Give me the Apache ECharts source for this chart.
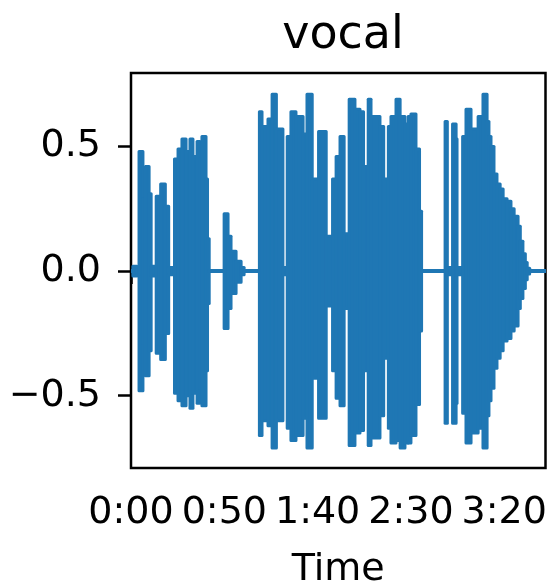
<!DOCTYPE html>
<html>
<head>
<meta charset="utf-8">
<script src="https://cdn.jsdelivr.net/npm/echarts@6/dist/echarts.min.js"></script>
<style>
html,body{margin:0;padding:0;background:#fff;}
#chart{width:550px;height:586px;}
</style>
</head>
<body>
<div id="chart"></div>
<script>
// Envelope of the "vocal" waveform.
// Each entry starts a segment (seconds) whose max / min amplitude holds until the next entry.
const times = [0, 1.0, 3.2, 4.3, 6.4, 7.7, 9.7, 10.8, 13.5, 15.9, 18.4, 20.2, 23.3, 25.2, 27.3, 29.5, 31.6, 33.2, 35.4, 37.0, 38.0, 40.2, 41.0, 41.9,
  49.9, 52.0, 53.6, 56.3, 59.0, 60.6,
  68.8, 70.2, 73.4, 75.6, 77.9, 81.4, 83.7, 85.7, 88.4, 92.2, 94.3, 97.1, 100.5, 104.6, 108.0, 109.9, 112.0, 114.2, 116.9, 120.0, 122.7, 124.6, 127.1, 128.6, 133.4, 135.4, 137.9, 139.3, 142.0, 144.2, 146.8, 148.5, 150.0, 152.7, 154.6, 155.7,
  168.3, 169.5, 172.3, 174.2, 174.7, 177.7, 179.5, 182.2, 186.0, 188.6, 190.8, 191.8, 192.9, 194.5, 196.1, 197.8, 199.4, 201.5, 203.6, 205.3, 207.4, 208.6, 210.0, 211.3, 212.3, 213.6, 222.1];
const upper = [0.002, 0.02, 0.006, 0.48, 0.29, 0.42, 0.31, 0.02, 0.30, 0.35, 0.26, 0.015, 0.45, 0.49, 0.53, 0.48, 0.53, 0.46, 0.52, 0.45, 0.54, 0.37, 0.13, 0.002,
  0.23, 0.14, 0.08, 0.04, 0.015, 0.002,
  0.64, 0.58, 0.61, 0.71, 0.57, 0.015, 0.54, 0.64, 0.62, 0.55, 0.71, 0.37, 0.56, 0.14, 0.37, 0.46, 0.54, 0.15, 0.69, 0.65, 0.64, 0.42, 0.69, 0.62, 0.58, 0.37, 0.58, 0.62, 0.69, 0.62, 0.59, 0.62, 0.63, 0.49, 0.24, 0.002,
  0.60, 0.015, 0.59, 0.53, 0.015, 0.54, 0.65, 0.57, 0.62, 0.71, 0.60, 0.54, 0.50, 0.39, 0.35, 0.33, 0.29, 0.28, 0.25, 0.22, 0.18, 0.12, 0.07, 0.035, 0.012, 0.002, 0.002];
const lower = [-0.002, -0.02, -0.006, -0.48, -0.29, -0.42, -0.32, -0.02, -0.33, -0.355, -0.25, -0.015, -0.49, -0.52, -0.54, -0.50, -0.55, -0.49, -0.53, -0.47, -0.54, -0.40, -0.13, -0.002,
  -0.23, -0.15, -0.09, -0.045, -0.015, -0.002,
  -0.66, -0.60, -0.62, -0.71, -0.60, -0.015, -0.63, -0.68, -0.66, -0.59, -0.71, -0.43, -0.59, -0.14, -0.40, -0.51, -0.54, -0.15, -0.70, -0.65, -0.64, -0.40, -0.70, -0.67, -0.58, -0.35, -0.63, -0.69, -0.68, -0.71, -0.69, -0.69, -0.66, -0.535, -0.24, -0.002,
  -0.61, -0.015, -0.61, -0.53, -0.015, -0.57, -0.69, -0.65, -0.63, -0.71, -0.58, -0.52, -0.47, -0.39, -0.35, -0.32, -0.28, -0.27, -0.24, -0.22, -0.15, -0.11, -0.07, -0.035, -0.012, -0.002, -0.002];
const xTicks = [0, 50, 100, 150, 200];
const yTicks = [-0.5, 0, 0.5];
const titleText = 'vocal';
const xName = 'Time';

const BLUE = '#1f77b4';
const FONT = 'DejaVu Sans';
function fmtTime(v) {
  const m = Math.floor(v / 60), s = Math.round(v - m * 60);
  return m + ':' + (s < 10 ? '0' : '') + s;
}
function fmtY(v) { return v.toFixed(1).replace('-', '\u2212'); }

// one item per envelope segment: [start, end, max, min]
const segData = [];
for (let i = 0; i < times.length - 1; i++) {
  segData.push([times[i], times[i + 1], upper[i], lower[i]]);
}

const chart = echarts.init(document.getElementById('chart'), null, {renderer: 'canvas'});
chart.setOption({
  animation: false,
  backgroundColor: '#fff',
  title: {
    text: titleText, left: 338, top: 8, textAlign: 'center',
    textStyle: {fontFamily: FONT, fontSize: 46, fontWeight: 'normal', color: '#000'}
  },
  grid: {left: 131, right: 4.5, top: 73, bottom: 118, outerBoundsMode: 'none', containLabel: false,
         show: true, borderColor: '#000', borderWidth: 2.5, backgroundColor: 'transparent'},
  xAxis: {
    type: 'value', min: 0, max: 222.1,
    name: xName, nameLocation: 'middle', nameGap: 83,
    nameTextStyle: {fontFamily: FONT, fontSize: 38, color: '#000'},
    axisLine: {show: false},
    splitLine: {show: false},
    axisTick: {show: true, customValues: xTicks, length: 13, lineStyle: {color: '#000', width: 2.5}},
    axisLabel: {customValues: xTicks, formatter: fmtTime, fontFamily: FONT, fontSize: 38, color: '#000', margin: 26}
  },
  yAxis: {
    type: 'value', min: -0.79, max: 0.795,
    axisLine: {show: false},
    splitLine: {show: false},
    axisTick: {show: true, customValues: yTicks, length: 13, lineStyle: {color: '#000', width: 2.5}},
    axisLabel: {customValues: yTicks, formatter: fmtY, fontFamily: FONT, fontSize: 38, color: '#000', margin: 30}
  },
  series: [{
    type: 'custom',
    data: segData,
    encode: {x: [0, 1], y: [2, 3]},
    clip: true,
    z: 2,
    renderItem: function (params, api) {
      const p1 = api.coord([api.value(0), api.value(2)]);
      const p2 = api.coord([api.value(1), api.value(3)]);
      return {
        type: 'rect',
        shape: {x: p1[0], y: p1[1], width: p2[0] - p1[0], height: p2[1] - p1[1]},
        style: {fill: BLUE, stroke: BLUE, lineWidth: 3, lineJoin: 'round'}
      };
    }
  }]
});
</script>
</body>
</html>
